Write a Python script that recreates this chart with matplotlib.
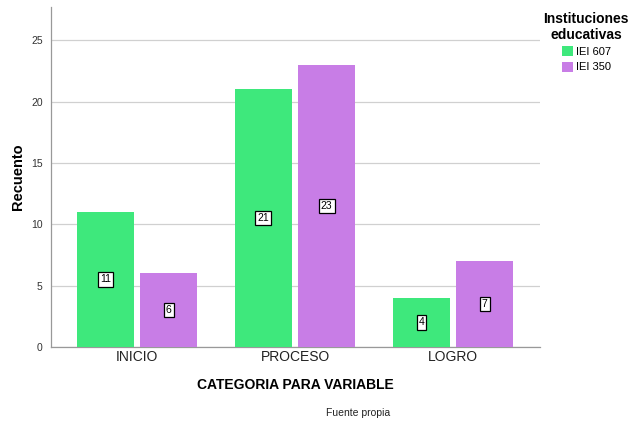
import matplotlib
matplotlib.use("Agg")
import matplotlib.pyplot as plt
import numpy as np

plt.rcParams['font.family'] = ['Liberation Sans', 'DejaVu Sans']

categories = ["INICIO", "PROCESO", "LOGRO"]
series_names = ["IEI 607", "IEI 350"]
iei607 = [11, 21, 4]
iei350 = [6, 23, 7]
colors = ["#3ee87c", "#c87de6"]

fig = plt.figure(figsize=(6.3, 4.23), dpi=100)
ax = fig.add_axes([51/630, 1-347/423, (540-51)/630, (347-7)/423])

x = np.arange(len(categories))
w = 0.36
off = 0.2
for vals, sign, c, name in [(iei607, -1, colors[0], series_names[0]), (iei350, 1, colors[1], series_names[1])]:
    bars = ax.bar(x + sign*off, vals, width=w, color=c, label=name, zorder=3)
    for b, v in zip(bars, vals):
        ax.text(b.get_x()+b.get_width()/2, v/2, str(v), ha='center', va='center', fontsize=7.5,
                zorder=4, bbox=dict(boxstyle='square,pad=0.2', facecolor='white', edgecolor='black', linewidth=0.9))

ax.set_xlim(-0.544, 2.55)
ax.set_ylim(0, 27.7)
ax.set_yticks([0, 5, 10, 15, 20, 25])
ax.yaxis.grid(True, color='#d0d0d0', linewidth=0.9, zorder=0)
ax.set_xticks(x)
ax.set_xticklabels(categories, fontsize=10, color='#222222')
ax.tick_params(axis='x', length=0, pad=2)
ax.tick_params(axis='y', length=0, labelsize=7.5, labelcolor='#333333', pad=6)
for s in ['top', 'right']:
    ax.spines[s].set_visible(False)
for s in ['left', 'bottom']:
    ax.spines[s].set_color('#999999')
    ax.spines[s].set_linewidth(0.9)

ax.set_ylabel("Recuento", fontsize=10.5, fontweight='bold', labelpad=4)
ax.set_xlabel("CATEGORIA PARA VARIABLE", fontsize=10, fontweight='bold', labelpad=10)

leg = fig.legend(loc='upper right', bbox_to_anchor=(629/630, 1-12/423), frameon=False,
                 title="Instituciones\neducativas", fontsize=8, handlelength=1.0, handleheight=1.0,
                 handletextpad=0.3, borderaxespad=0, labelspacing=0.4, borderpad=0)
leg.get_title().set_fontweight('bold')
leg.get_title().set_fontsize(10)
leg.get_title().set_multialignment('center')
leg._legend_box.align = "center"
leg._legend_box.sep = 3

fig.text(358/630, 1-413/423, "Fuente propia", fontsize=7.5, ha='center', va='center', color='#222222')

fig.savefig("out.png", dpi=100)
